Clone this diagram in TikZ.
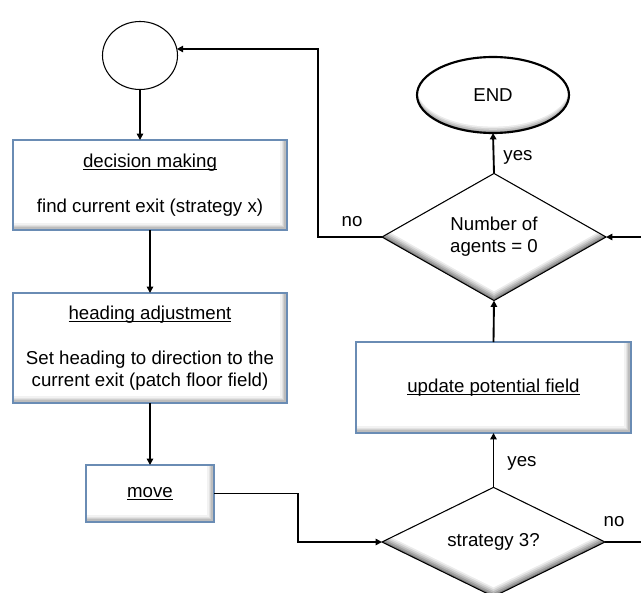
\documentclass[tikz,border=0pt]{standalone}
\usepackage{fontspec}
\setmainfont{Liberation Sans}
\usetikzlibrary{shapes.geometric,arrows.meta}

\pgfdeclarelayer{shade}
\pgfsetlayers{shade,main}

\definecolor{boxedge}{HTML}{6A8CB4}
\definecolor{bev1}{gray}{0.66}
\definecolor{bev2}{gray}{0.74}
\definecolor{bev3}{gray}{0.82}
\definecolor{bev4}{gray}{0.89}
\definecolor{bev5}{gray}{0.95}
\definecolor{dia1}{gray}{0.50}
\definecolor{dia2}{gray}{0.62}
\definecolor{dia3}{gray}{0.73}
\definecolor{dia4}{gray}{0.83}
\definecolor{dia5}{gray}{0.92}

% underline at a fixed depth below the baseline
\newcommand\uln[1]{\leavevmode\setbox0\hbox{#1}\rlap{\rule[-2.1pt]{\wd0}{0.8pt}}\box0}

% one band of a rectangle bevel: node, offset, colour
\newcommand\rband[3]{\fill[#3] ([shift={(-#2,#2)}]#1.south west) rectangle ([shift={(-#2,#2)}]#1.north east);}
% one band of a diamond bevel
\newcommand\dband[3]{\fill[#3] ([shift={(0pt,#2)}]#1.west) -- ([shift={(0pt,#2)}]#1.north)
  -- ([shift={(0pt,#2)}]#1.east) -- ([shift={(0pt,#2)}]#1.south) -- cycle;}
% one band of an ellipse bevel
\newcommand\eband[3]{\fill[#3] ([shift={(0pt,#2)}]#1.center) ellipse [x radius=57pt, y radius=28.5pt];}

% grey bands along the bottom and right sides of a box
\newcommand\bevelrect[1]{%
  \begin{pgfonlayer}{shade}
  \begin{scope}
    \clip (#1.south west) rectangle (#1.north east);
    \rband{#1}{0pt}{bev1}\rband{#1}{1pt}{bev2}\rband{#1}{2pt}{bev3}
    \rband{#1}{3pt}{bev4}\rband{#1}{4pt}{bev5}\rband{#1}{5pt}{white}
  \end{scope}
  \end{pgfonlayer}}
% grey bands along the two lower sides of a diamond
\newcommand\beveldia[1]{%
  \begin{pgfonlayer}{shade}
  \begin{scope}
    \clip (#1.west) -- (#1.north) -- (#1.east) -- (#1.south) -- cycle;
    \dband{#1}{0pt}{dia1}\dband{#1}{1.4pt}{dia2}\dband{#1}{2.8pt}{dia3}
    \dband{#1}{4.2pt}{dia4}\dband{#1}{5.6pt}{dia5}\dband{#1}{7pt}{white}
  \end{scope}
  \end{pgfonlayer}}
% grey band along the lower rim of the END ellipse
\newcommand\bevelell[1]{%
  \begin{pgfonlayer}{shade}
  \begin{scope}
    \clip (#1.center) ellipse [x radius=57pt, y radius=28.5pt];
    \eband{#1}{0pt}{dia2}\eband{#1}{1.2pt}{dia3}\eband{#1}{2.4pt}{dia4}
    \eband{#1}{3.6pt}{dia5}\eband{#1}{4.8pt}{white}
  \end{scope}
  \end{pgfonlayer}}

\tikzset{
  txt/.style={font=\fontsize{14pt}{16.5pt}\selectfont, align=center},
  stepbox/.style={txt, rectangle, draw=boxedge, line width=0.9pt, inner sep=0pt, outer sep=0pt},
  decide/.style={txt, diamond, draw=black, line width=0.8pt, inner sep=0pt, outer sep=0pt,
    minimum width=168pt, minimum height=72pt},
  terminal/.style={txt, ellipse, draw=black, line width=1.6pt, inner sep=0pt, outer sep=0pt,
    minimum width=114pt, minimum height=57pt},
  connector/.style={draw=black, line width=1.4pt, -{Triangle[length=4.8pt,width=4.8pt]}},
  plainline/.style={draw=black, line width=1.4pt},
  lbl/.style={txt, inner sep=0pt}
}

\begin{document}
\begin{tikzpicture}[x=0.75pt,y=-0.75pt]
\useasboundingbox (0,0) rectangle (641,592);

% left column
\node[ellipse, draw=black, line width=0.8pt, minimum width=56.25pt, minimum height=51pt,
      inner sep=0pt, outer sep=0pt] (start) at (140,55.5) {};
\node[stepbox, minimum width=205.5pt, minimum height=67.5pt] (decision) at (150,185)
  {\uln{decision making}\\[17.5pt]find current exit (strategy x)};
\node[stepbox, minimum width=205.5pt, minimum height=82.5pt] (heading) at (150,348)
  {\uln{heading adjustment}\\[17.5pt]Set heading to direction to the\\current exit (patch floor field)};
\node[stepbox, minimum width=96pt, minimum height=42.75pt] (move) at (150,493.5) {\uln{move}};

% right column
\node[decide, minimum width=167.25pt] (strat) at (493.5,542) {strategy 3?};
\node[stepbox, minimum width=206.25pt, minimum height=68.25pt] (update) at (493.5,387.5)
  {\uln{update potential field}};
\node[decide] (num) at (494,237) {Number of\\agents = 0};
\node[terminal] (end) at (493,95) {END};

% bevel shading behind the shapes
\bevelrect{decision}
\bevelrect{heading}
\bevelrect{move}
\bevelrect{update}
\beveldia{strat}
\beveldia{num}
\bevelell{end}

% helper coordinates for the elbows and the loop leaving the page
\coordinate (elbowA) at (298,518);
\coordinate (loopx) at (318,0);
\coordinate (rimlow) at (641,542);
\coordinate (rimhigh) at (641,237);

% connectors
\draw[connector] (start.south) -- (start.south |- decision.north);
\draw[connector] (decision.south) -- (heading.north);
\draw[connector] (heading.south) -- (move.north);
\draw[connector] (move.east) -| (elbowA) |- (strat.west);
\draw[connector] (strat.north) -- (update.south);
\draw[connector] (update.north) -- (num.south);
\draw[connector] (num.north) -- (end.south);
\draw[connector] (num.west) -- (loopx |- num.west) |- (start.10);
\draw[plainline] (strat.east) -- (rimlow);
\draw[connector] (rimhigh) -- (num.east);

% branch labels
\node[lbl] (yesend) at (518,157) {yes};
\node[lbl] (yesupd) at (522,463) {yes};
\node[lbl] (noloop) at (352,222) {no};
\node[lbl] (noright) at (614,522) {no};
\end{tikzpicture}
\end{document}
